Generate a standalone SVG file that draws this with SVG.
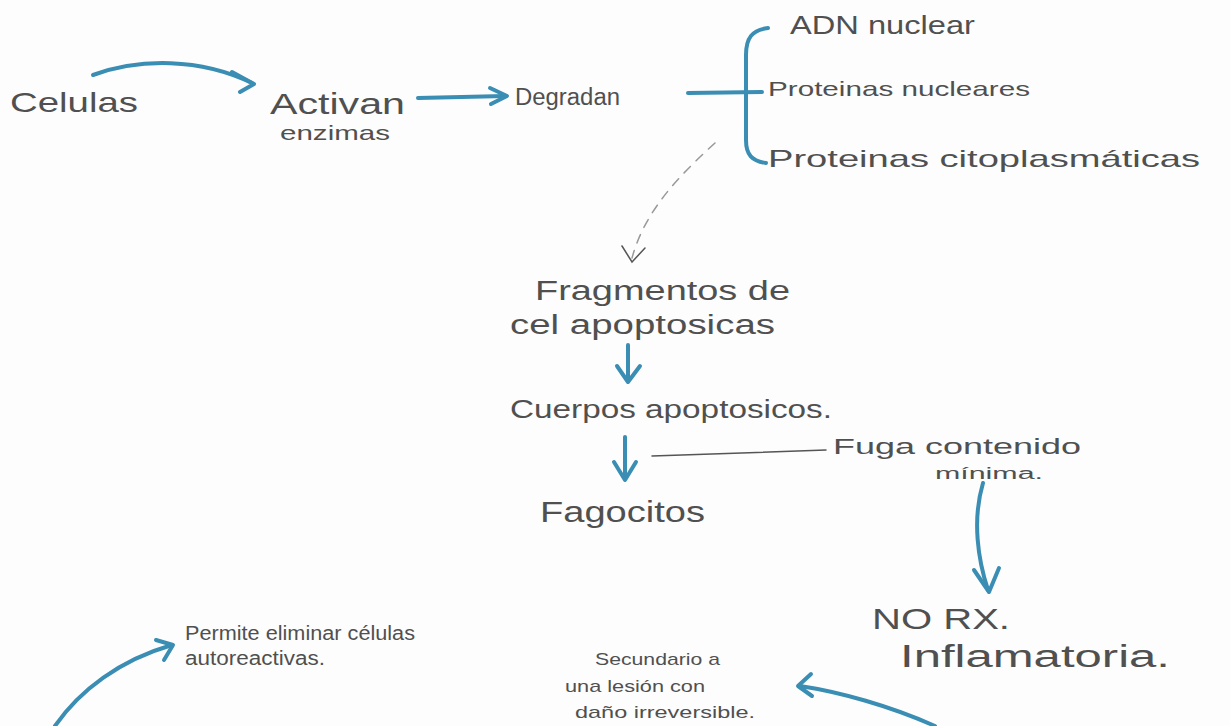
<svg xmlns="http://www.w3.org/2000/svg" width="1230" height="726" viewBox="0 0 1230 726">
<defs>
<style>
.t{font-family:"Liberation Sans","DejaVu Sans",sans-serif;fill:#505050;font-weight:normal}
.b{fill:none;stroke:#3a8db3;stroke-width:4;stroke-linecap:round;stroke-linejoin:round}
.bh{fill:none;stroke:#3a8db3;stroke-width:4;stroke-linecap:round;stroke-linejoin:round}
.k{fill:none;stroke:#555;stroke-width:1.5;stroke-linecap:round}
.d{fill:none;stroke:#999;stroke-width:1.5;stroke-dasharray:9 8;stroke-linecap:round}
</style>
</defs>
<rect width="1230" height="726" fill="#fdfdfd"/>
<g id="connectors">
<path class="b" d="M93,75 C140,58 200,58 252,83"/>
<path class="bh" d="M232,72 L254,84 L240,92"/>
<path class="b" d="M418,98 L505,96"/>
<path class="bh" d="M490,88 L507,96 L491,104"/>
<path class="b" d="M688,93 L762,92"/>
<path class="b" d="M768,28 C752,30 746,38 746,55 L746,140 C746,155 752,161 766,163"/>
<path class="d" d="M715,143 C680,175 645,210 632,258"/>
<path class="k" d="M622,246 L632,262 L645,248"/>
<path class="b" d="M628,345 L628,380"/>
<path class="bh" d="M617,366 L628,382 L640,366"/>
<path class="b" d="M625,437 L625,478"/>
<path class="bh" d="M614,462 L625,480 L636,462"/>
<path class="k" d="M652,456 L826,450"/>
<path class="b" d="M983,483 C972,520 978,560 988,590"/>
<path class="bh" d="M974,570 L989,592 L999,568"/>
<path class="b" d="M55,726 C80,690 120,660 172,645"/>
<path class="bh" d="M156,640 L173,645 L164,660"/>
<path class="b" d="M935,726 C890,706 840,692 800,686"/>
<path class="bh" d="M811,674 L798,686 L812,696"/>
</g>
<g id="n-celulas"><text class="t" x="10" y="112" font-size="28" textLength="128" lengthAdjust="spacingAndGlyphs">Celulas</text></g>
<g id="n-activan"><text class="t" x="270" y="114" font-size="30" textLength="135" lengthAdjust="spacingAndGlyphs">Activan</text>
<text class="t" x="280" y="140" font-size="21" textLength="110" lengthAdjust="spacingAndGlyphs">enzimas</text></g>
<g id="n-degradan"><text class="t" x="515" y="105" font-size="23" textLength="105" lengthAdjust="spacingAndGlyphs">Degradan</text></g>
<g id="n-adn"><text class="t" x="790" y="34" font-size="25" textLength="185" lengthAdjust="spacingAndGlyphs">ADN nuclear</text></g>
<g id="n-protnuc"><text class="t" x="768" y="96" font-size="21" textLength="262" lengthAdjust="spacingAndGlyphs">Proteinas nucleares</text></g>
<g id="n-protcito"><text class="t" x="768" y="167" font-size="24" textLength="432" lengthAdjust="spacingAndGlyphs">Proteinas citoplasmáticas</text></g>
<g id="n-fragmentos"><text class="t" x="535" y="300" font-size="27" textLength="255" lengthAdjust="spacingAndGlyphs">Fragmentos de</text>
<text class="t" x="510" y="334" font-size="27" textLength="265" lengthAdjust="spacingAndGlyphs">cel apoptosicas</text></g>
<g id="n-cuerpos"><text class="t" x="510" y="418" font-size="25" textLength="322" lengthAdjust="spacingAndGlyphs">Cuerpos apoptosicos.</text></g>
<g id="n-fuga"><text class="t" x="833" y="454" font-size="22" textLength="248" lengthAdjust="spacingAndGlyphs">Fuga contenido</text>
<text class="t" x="935" y="479" font-size="16" textLength="108" lengthAdjust="spacingAndGlyphs">mínima.</text></g>
<g id="n-fagocitos"><text class="t" x="540" y="522" font-size="29" textLength="165" lengthAdjust="spacingAndGlyphs">Fagocitos</text></g>
<g id="n-norx"><text class="t" x="872" y="629" font-size="30" textLength="138" lengthAdjust="spacingAndGlyphs">NO RX.</text>
<text class="t" x="900" y="667" font-size="31" textLength="270" lengthAdjust="spacingAndGlyphs">Inflamatoria.</text></g>
<g id="n-permite"><text class="t" x="185" y="640" font-size="20" textLength="230" lengthAdjust="spacingAndGlyphs">Permite eliminar células</text>
<text class="t" x="185" y="665" font-size="20" textLength="140" lengthAdjust="spacingAndGlyphs">autoreactivas.</text></g>
<g id="n-secundario"><text class="t" x="595" y="665" font-size="17" textLength="125" lengthAdjust="spacingAndGlyphs">Secundario a</text>
<text class="t" x="565" y="692" font-size="17" textLength="140" lengthAdjust="spacingAndGlyphs">una lesión con</text>
<text class="t" x="575" y="718" font-size="17" textLength="180" lengthAdjust="spacingAndGlyphs">daño irreversible.</text></g>
</svg>
